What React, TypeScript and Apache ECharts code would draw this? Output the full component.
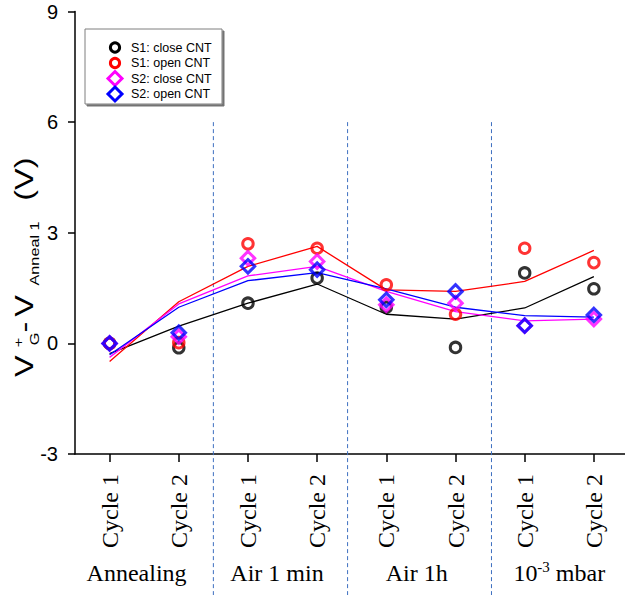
import React, { useEffect, useRef } from "react";
import * as echarts from "echarts";

const xPositions = [1, 2, 3, 4, 5, 6, 7, 8];
const cycleLabels = ["Cycle 1", "Cycle 2", "Cycle 1", "Cycle 2", "Cycle 1", "Cycle 2", "Cycle 1", "Cycle 2"];
const groupNames = ["Annealing", "Air 1 min", "Air 1h", "10-3 mbar"];
const groupCenters = [1.39, 3.42, 5.44, 7.5];
const separators = [2.5, 4.44, 6.52];

const s1Close = [0, -0.12, 1.09, 1.77, 0.98, -0.11, 1.91, 1.48];
const s1Open = [0, 0.02, 2.7, 2.58, 1.59, 0.79, 2.58, 2.19];
const s2Close = [0, 0.18, 2.31, 2.22, 1.05, 1.09, 0.48, 0.66];
const s2Open = [0, 0.29, 2.09, 2.0, 1.18, 1.41, 0.48, 0.77];

const fitS1Close = [-0.28, 0.47, 1.09, 1.61, 0.79, 0.66, 0.96, 1.81];
const fitS1Open = [-0.49, 1.13, 2.09, 2.63, 1.45, 1.41, 1.68, 2.52];
const fitS2Close = [-0.38, 1.07, 1.83, 2.09, 1.41, 0.86, 0.61, 0.66];
const fitS2Open = [-0.31, 0.98, 1.7, 1.92, 1.48, 0.98, 0.75, 0.71];

const legendNames = ["S1: close CNT", "S1: open CNT", "S2: close CNT", "S2: open CNT"];
const colors = ["#000000", "#ff0000", "#ff00ff", "#0000ff"];

const SANS = "Liberation Sans";
const SERIF = "Liberation Serif";

const pairs = (ys: number[]) => xPositions.map((x, i) => [x, ys[i]]);

export default function App() {
  const ref = useRef<HTMLDivElement>(null);
  useEffect(() => {
    const chart = echarts.init(ref.current!, null, { renderer: "svg" });
    const fits = [fitS1Close, fitS1Open, fitS2Close, fitS2Open];
    const pts = [s1Close, s1Open, s2Close, s2Open];
    const series: any[] = [];
    fits.forEach((f, i) => {
      series.push({
        type: "line",
        data: pairs(f),
        symbol: "none",
        showSymbol: false,
        lineStyle: { color: colors[i], width: 1.3 },
        z: 2,
        silent: true,
      });
    });
    pts.forEach((p, i) => {
      series.push({
        type: "scatter",
        name: legendNames[i],
        data: pairs(p),
        symbol: i < 2 ? "circle" : "diamond",
        symbolSize: i < 2 ? 10.5 : 13.5,
        itemStyle: { color: "transparent", borderColor: colors[i], borderWidth: 3 },
        z: 3 + i,
        silent: true,
      });
    });
    const option: any = {
      animation: false,
      backgroundColor: "#ffffff",
      grid: { left: 75, right: 0, top: 11.5, bottom: 141, containLabel: false },
      xAxis: {
        type: "value",
        min: 0.5,
        max: 8.45,
        axisLine: { show: true, onZero: false, lineStyle: { color: "#000", width: 1.5 } },
        axisTick: { show: true, customValues: xPositions, length: 8, lineStyle: { color: "#000", width: 1.5 } },
        axisLabel: {
          customValues: xPositions,
          rotate: 90,
          margin: 20,
          fontSize: 24,
          fontFamily: SERIF,
          color: "#000",
          formatter: (v: number) => cycleLabels[xPositions.indexOf(Math.round(v))] ?? "",
        },
        splitLine: { show: false },
      },
      yAxis: {
        type: "value",
        min: -3,
        max: 9,
        interval: 3,
        axisLine: { show: true, lineStyle: { color: "#000", width: 1.5 } },
        axisTick: { show: true, length: 7, lineStyle: { color: "#000", width: 1.5 } },
        axisLabel: { fontSize: 20, fontFamily: SANS, color: "#000", margin: 17 },
        splitLine: { show: false },
      },
      series,
    };
    chart.setOption(option);

    const graphics: any[] = [];
    separators.forEach((s) => {
      const p = chart.convertToPixel({ gridIndex: 0 }, [s, 6]) as number[];
      graphics.push({
        type: "line",
        silent: true,
        z: 1,
        shape: { x1: p[0], y1: p[1], x2: p[0], y2: 595 },
        style: { stroke: "#3d6fc0", lineWidth: 1, lineDash: [4, 3] },
      });
    });
    const baseY = 585;
    groupNames.forEach((g, i) => {
      const p = chart.convertToPixel({ gridIndex: 0 }, [groupCenters[i], -3]) as number[];
      const isMbar = g.startsWith("10-3");
      graphics.push({
        type: "text",
        silent: true,
        z: 5,
        x: p[0],
        y: baseY,
        style: isMbar
          ? {
              text: "{a|10}{s|-3}{a| mbar}",
              align: "center",
              verticalAlign: "bottom",
              rich: {
                a: { fontSize: 24, fontFamily: SERIF, fill: "#000", lineHeight: 26, verticalAlign: "bottom" },
                s: { fontSize: 15, fontFamily: SERIF, fill: "#000", lineHeight: 26, verticalAlign: "top" },
              },
            }
          : {
              text: g,
              align: "center",
              verticalAlign: "bottom",
              fontSize: 24,
              fontFamily: SERIF,
              fill: "#000",
            },
      });
    });

    // Y axis name (rotated, with sub/superscripts), slightly stretched along its length
    const mainFont = { fontSize: 25, fontFamily: SANS, fill: "#000", align: "center", verticalAlign: "middle" };
    const subFont = { fontSize: 12.5, fontFamily: SANS, fill: "#000", align: "center", verticalAlign: "middle" };
    graphics.push({
      type: "group",
      x: 33,
      y: 378,
      rotation: Math.PI / 2,
      scaleX: 1.3,
      silent: true,
      z: 5,
      children: [
        { type: "text", x: 9.2, y: -8.5, style: { ...mainFont, text: "V" } },
        { type: "text", x: 27.3, y: -14.5, style: { ...subFont, text: "+" } },
        { type: "text", x: 30, y: 1.2, style: { ...subFont, text: "G" } },
        { type: "text", x: 39.2, y: -8.5, style: { ...mainFont, text: "-" } },
        { type: "text", x: 55.4, y: -8.5, style: { ...mainFont, text: "V" } },
        { type: "text", x: 95.8, y: 1.2, style: { ...subFont, text: "Anneal 1" } },
        { type: "text", x: 153, y: -8.5, style: { ...mainFont, text: "(V)" } },
      ],
    });

    // Legend box
    const legendChildren: any[] = [
      {
        type: "rect",
        shape: { x: 85, y: 29, width: 137, height: 75 },
        style: {
          fill: "#ffffff",
          stroke: "#7f7f7f",
          lineWidth: 1,
          shadowColor: "rgba(0,0,0,0.55)",
          shadowOffsetX: 2,
          shadowOffsetY: 2,
          shadowBlur: 1,
        },
      },
    ];
    const rowY = [47.5, 63, 78.5, 94];
    legendNames.forEach((n, i) => {
      const y = rowY[i];
      if (i < 2) {
        legendChildren.push({
          type: "circle",
          shape: { cx: 115, cy: y, r: 4.6 },
          style: { fill: "none", stroke: colors[i], lineWidth: 3 },
        });
      } else {
        legendChildren.push({
          type: "polygon",
          shape: { points: [[115, y - 7], [122, y], [115, y + 7], [108, y]] },
          style: { fill: "none", stroke: colors[i], lineWidth: 3 },
        });
      }
      legendChildren.push({
        type: "text",
        x: 131,
        y: y,
        style: { text: n, fontSize: 12.5, fontFamily: SANS, fill: "#000", align: "left", verticalAlign: "middle" },
      });
    });
    graphics.push({ type: "group", silent: true, z: 10, children: legendChildren });

    chart.setOption({ graphic: graphics });
    return () => chart.dispose();
  }, []);
  return (
    <div
      ref={ref}
      style={{ position: "fixed", left: 0, top: 0, width: 625, height: 595, background: "#fff" }}
    />
  );
}
